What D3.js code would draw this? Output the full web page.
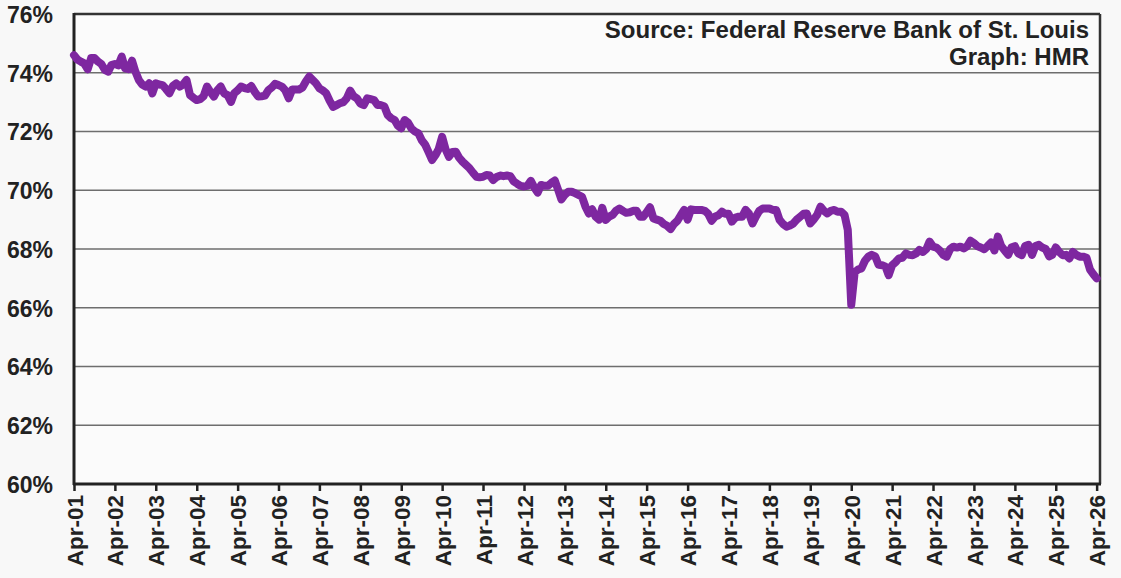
<!DOCTYPE html>
<html>
<head>
<meta charset="utf-8">
<script src="https://cdn.jsdelivr.net/npm/d3@7"></script>
<style>
  html, body { margin: 0; padding: 0; background: #f8f8f8; }
  svg { display: block; }
  text { font-family: "Liberation Sans", Arial, sans-serif; font-weight: bold; fill: #222; }
</style>
</head>
<body>
<svg id="chart" width="1121" height="578"></svg>
<script>
// Monthly values (%), starting April 2001
const rate2001to2006 = [
  74.6, 74.45, 74.38, 74.32, 74.12, 74.5, 74.5, 74.38, 74.3, 74.1, 74.04, 74.26,
  74.3, 74.25, 74.55, 74.15, 74.12, 74.41, 74.04, 73.75, 73.6, 73.53, 73.64, 73.3,
  73.64, 73.6, 73.58, 73.45, 73.3, 73.55, 73.64, 73.53, 73.6, 73.75, 73.24, 73.15,
  73.07, 73.1, 73.2, 73.53, 73.35, 73.19, 73.4, 73.53, 73.3, 73.24, 73.01, 73.3,
  73.4, 73.53, 73.48, 73.45, 73.55, 73.35, 73.19, 73.2, 73.22, 73.41, 73.5, 73.62
];
const rate2006to2011 = [
  73.58, 73.53, 73.4, 73.13, 73.43, 73.43, 73.43, 73.5, 73.7, 73.87, 73.75, 73.64,
  73.47, 73.4, 73.3, 73.05, 72.84, 72.9, 72.96, 73.0, 73.13, 73.39, 73.2, 73.13,
  72.95, 72.9, 73.13, 73.1, 73.07, 72.9, 72.9, 72.85, 72.56, 72.45, 72.39, 72.2,
  72.11, 72.39, 72.3, 72.1, 72.0, 71.94, 71.7, 71.55, 71.3, 71.03, 71.2, 71.4,
  71.82, 71.4, 71.14, 71.3, 71.31, 71.1, 70.97, 70.86, 70.75, 70.6, 70.46, 70.44
];
const rate2011to2016 = [
  70.46, 70.52, 70.5, 70.35, 70.45, 70.5, 70.48, 70.5, 70.48, 70.3, 70.22, 70.15,
  70.13, 70.15, 70.32, 70.1, 69.92, 70.18, 70.15, 70.15, 70.25, 70.33, 70.0, 69.69,
  69.85, 69.95, 69.95, 69.9, 69.84, 69.78, 69.45, 69.21, 69.35, 69.1, 69.0, 69.4,
  68.99, 69.1, 69.16, 69.3, 69.38, 69.3, 69.23, 69.25, 69.3, 69.3, 69.1, 69.1,
  69.25, 69.42, 69.04, 69.0, 68.96, 68.85, 68.79, 68.68, 68.85, 68.96, 69.16, 69.33
];
const rate2016to2021 = [
  69.0, 69.35, 69.33, 69.33, 69.33, 69.3, 69.2, 68.96, 69.1, 69.15, 69.27, 69.2,
  69.2, 68.93, 69.07, 69.1, 69.1, 69.33, 69.2, 68.87, 69.1, 69.3, 69.38, 69.38,
  69.38, 69.33, 69.33, 68.99, 68.85, 68.76, 68.8, 68.87, 69.0, 69.1, 69.2, 69.21,
  68.87, 69.0, 69.16, 69.44, 69.3, 69.21, 69.3, 69.33, 69.27, 69.27, 69.16, 68.65,
  66.1, 67.2, 67.3, 67.34, 67.6, 67.74, 67.8, 67.75, 67.46, 67.45, 67.4, 67.11
];
const rate2021to2026 = [
  67.45, 67.55, 67.68, 67.7, 67.85, 67.8, 67.79, 67.85, 67.97, 67.9, 68.0, 68.25,
  68.08, 68.05, 67.95, 67.8, 67.74, 68.0, 68.08, 68.05, 68.08, 68.02, 68.1, 68.28,
  68.2, 68.1, 68.05, 67.99, 68.1, 68.22, 67.95, 68.42, 68.1, 67.95, 67.8, 68.05,
  68.1, 67.85, 67.79, 68.1, 68.14, 67.8, 68.1, 68.14, 68.05, 68.0, 67.75, 67.8,
  68.05, 67.9, 67.79, 67.8, 67.68, 67.9, 67.8, 67.74, 67.74, 67.7, 67.3, 67.15,
  67.0
];

const xTickLabels = ["Apr-01","Apr-02","Apr-03","Apr-04","Apr-05","Apr-06","Apr-07","Apr-08","Apr-09",
  "Apr-10","Apr-11","Apr-12","Apr-13","Apr-14","Apr-15","Apr-16","Apr-17","Apr-18","Apr-19",
  "Apr-20","Apr-21","Apr-22","Apr-23","Apr-24","Apr-25","Apr-26"];
const yTickValues = [60, 62, 64, 66, 68, 70, 72, 74, 76];
const yTickLabels = ["60%","62%","64%","66%","68%","70%","72%","74%","76%"];
const sourceLines = ["Source: Federal Reserve Bank of St. Louis", "Graph: HMR"];

const values = [].concat(rate2001to2006, rate2006to2011, rate2011to2016, rate2016to2021, rate2021to2026);
const start = new Date(2001, 3, 1);
const data = values.map((v, i) => ({ date: d3.timeMonth.offset(start, i), value: v }));

const margin = { left: 74, right: 21, top: 14, bottom: 94 };
const W = 1121, H = 578;
const svg = d3.select("#chart");

const endDate = new Date(2026, 4, 1);
const x = d3.scaleTime()
  .domain([start, endDate])
  .range([margin.left, W - margin.right]);
const y = d3.scaleLinear().domain([60, 76]).range([H - margin.bottom, margin.top]);

// plot background
svg.append("rect").attr("x", 0).attr("y", 0).attr("width", W).attr("height", H).attr("fill", "#f8f8f8");
svg.append("rect")
  .attr("x", margin.left).attr("y", margin.top)
  .attr("width", W - margin.right - margin.left).attr("height", H - margin.bottom - margin.top)
  .attr("fill", "#fbfbfb");

// gridlines
svg.append("g").selectAll("line")
  .data(yTickValues.filter(d => d > 60 && d < 76))
  .join("line")
  .attr("x1", margin.left).attr("x2", W - margin.right)
  .attr("y1", d => y(d)).attr("y2", d => y(d))
  .attr("stroke", "#6e6e6e").attr("stroke-width", 1.4);

// y labels
const yAxis = d3.axisLeft(y).tickValues(yTickValues).tickSize(0).tickPadding(21)
  .tickFormat((d, i) => yTickLabels[i]);
const gy = svg.append("g").attr("transform", `translate(${margin.left},0)`).call(yAxis);
gy.select(".domain").remove();
gy.selectAll("text").style("font-size", "23px").attr("dy", "0.36em");

// x axis
const xTickDates = xTickLabels.map((_, i) => d3.timeYear.offset(start, i));
const xAxis = d3.axisBottom(x).tickValues(xTickDates).tickSize(7).tickPadding(4)
  .tickFormat((d, i) => xTickLabels[i]);
const gx = svg.append("g").attr("transform", `translate(0,${H - margin.bottom})`).call(xAxis);
gx.select(".domain").remove();
gx.selectAll(".tick line").attr("stroke", "#222").attr("stroke-width", 2.5);
gx.selectAll("text")
  .style("font-size", "22.5px")
  .attr("transform", "rotate(-90)")
  .attr("text-anchor", "end")
  .attr("x", -11).attr("y", 0).attr("dy", "0.36em");

// frame
const L = margin.left, R = W - margin.right, T = margin.top, B = H - margin.bottom;
svg.append("line").attr("x1", L).attr("x2", R).attr("y1", T).attr("y2", T).attr("stroke", "#333").attr("stroke-width", 2.5);
svg.append("line").attr("x1", R).attr("x2", R).attr("y1", T).attr("y2", B).attr("stroke", "#333").attr("stroke-width", 2.5);
svg.append("line").attr("x1", L).attr("x2", L).attr("y1", T - 1).attr("y2", B + 1).attr("stroke", "#222").attr("stroke-width", 3);
svg.append("line").attr("x1", L - 1).attr("x2", R + 1).attr("y1", B).attr("y2", B).attr("stroke", "#222").attr("stroke-width", 3);

// series line
const line = d3.line().x(d => x(d.date)).y(d => y(d.value)).curve(d3.curveLinear);
svg.append("path").datum(data)
  .attr("d", line)
  .attr("fill", "none")
  .attr("stroke", "#7e27a0")
  .attr("stroke-width", 8)
  .attr("stroke-linejoin", "round")
  .attr("stroke-linecap", "round");

// source text
svg.append("g").selectAll("text")
  .data(sourceLines)
  .join("text")
  .attr("x", 1089)
  .attr("y", (d, i) => 38 + i * 27)
  .attr("text-anchor", "end")
  .style("font-size", "24px")
  .text(d => d);
</script>
</body>
</html>
